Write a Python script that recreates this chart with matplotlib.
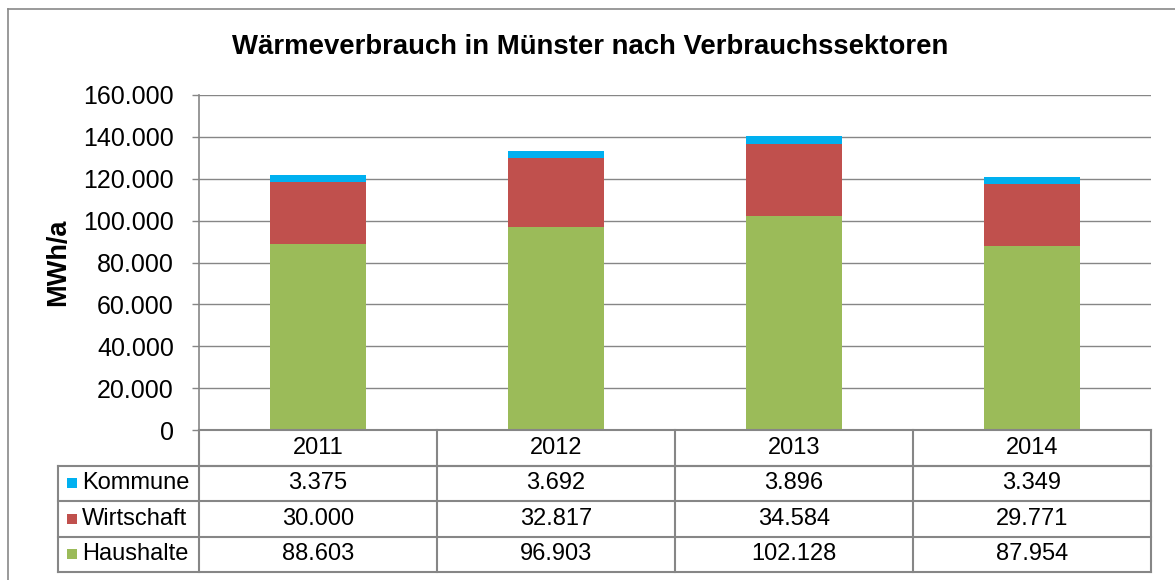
import numpy as np
import matplotlib.pyplot as plt
from matplotlib.ticker import FuncFormatter

plt.rcParams['font.family'] = ['Liberation Sans', 'DejaVu Sans']

# Data
years = ["2011", "2012", "2013", "2014"]
haushalte = [88603, 96903, 102128, 87954]
wirtschaft = [30000, 32817, 34584, 29771]
kommune = [3375, 3692, 3896, 3349]

series = [("Kommune", kommune, "#00B0F0"),
          ("Wirtschaft", wirtschaft, "#C0504D"),
          ("Haushalte", haushalte, "#9BBB59")]

grey = "#868686"

def de_fmt(v):
    return f"{int(round(v)):,}".replace(",", ".")

fig = plt.figure(figsize=(11.75, 5.8), dpi=100)

# outer chart border (cut at right/bottom)
fig.add_artist(plt.Line2D([8 / 1175, 8 / 1175], [0, 1 - 9 / 580], color="#898989", lw=1.2))
fig.add_artist(plt.Line2D([8 / 1175, 1], [1 - 9 / 580, 1 - 9 / 580], color="#898989", lw=1.2))

ax = fig.add_axes([199 / 1175, 1 - 430 / 580, 952 / 1175, 335 / 580])
x = np.arange(len(years))
bottom = np.zeros(len(years))
for name, vals, col in series[::-1]:
    ax.bar(x, vals, width=0.4, bottom=bottom, color=col, zorder=3)
    bottom += np.array(vals)

ax.set_xlim(-0.5, len(years) - 0.5)
ax.set_ylim(0, 160000)
ax.set_yticks(np.arange(0, 160001, 20000))
ax.yaxis.set_major_formatter(FuncFormatter(lambda v, p: de_fmt(v)))
ax.grid(axis="y", color=grey, lw=1.0, zorder=0)
ax.set_xticks([])
ax.tick_params(axis="y", length=5, width=1.0, color=grey, pad=13, labelsize=18)
for s in ["top", "right"]:
    ax.spines[s].set_visible(False)
for s in ["left", "bottom"]:
    ax.spines[s].set_color(grey)
    ax.spines[s].set_linewidth(1.2)
ax.set_ylabel("MWh/a", fontsize=19.5, fontweight="bold", labelpad=9)

fig.text(590 / 1175, 1 - 47 / 580, "Wärmeverbrauch in Münster nach Verbrauchssektoren",
         ha="center", va="center", fontsize=19.8, fontweight="bold")

# data table
tax = fig.add_axes([199 / 1175, 1 - 572 / 580, 952 / 1175, 142 / 580])
tax.set_xlim(-0.5, len(years) - 0.5)
tax.set_ylim(0, 4)
tax.axis("off")
lw_t = 1.5
left_edge = -0.5 - 141 / 238
# horizontal lines
tax.plot([-0.5, len(years) - 0.5], [4, 4], color=grey, lw=lw_t, clip_on=False)
tax.plot([-0.5, len(years) - 0.5], [3, 3], color=grey, lw=lw_t, clip_on=False)
for yy in [3, 2, 1, 0]:
    tax.plot([left_edge, len(years) - 0.5], [yy, yy], color=grey, lw=lw_t, clip_on=False)
# vertical lines
for xx in np.arange(-0.5, len(years), 1.0):
    tax.plot([xx, xx], [0, 4], color=grey, lw=lw_t, clip_on=False)
tax.plot([left_edge, left_edge], [0, 3], color=grey, lw=lw_t, clip_on=False)

for i, yr in enumerate(years):
    tax.text(i, 3.5, yr, ha="center", va="center", fontsize=17)
for r, (name, vals, col) in enumerate(series):
    yc = 2.5 - r
    tax.plot(left_edge + 14 / 238, yc, marker="s", ms=7.5, color=col, clip_on=False, mew=0)
    tax.text(left_edge + 24 / 238, yc, name, ha="left", va="center", fontsize=17)
    for i, v in enumerate(vals):
        tax.text(i, yc, de_fmt(v), ha="center", va="center", fontsize=17)

fig.savefig("out.png", dpi=100)
